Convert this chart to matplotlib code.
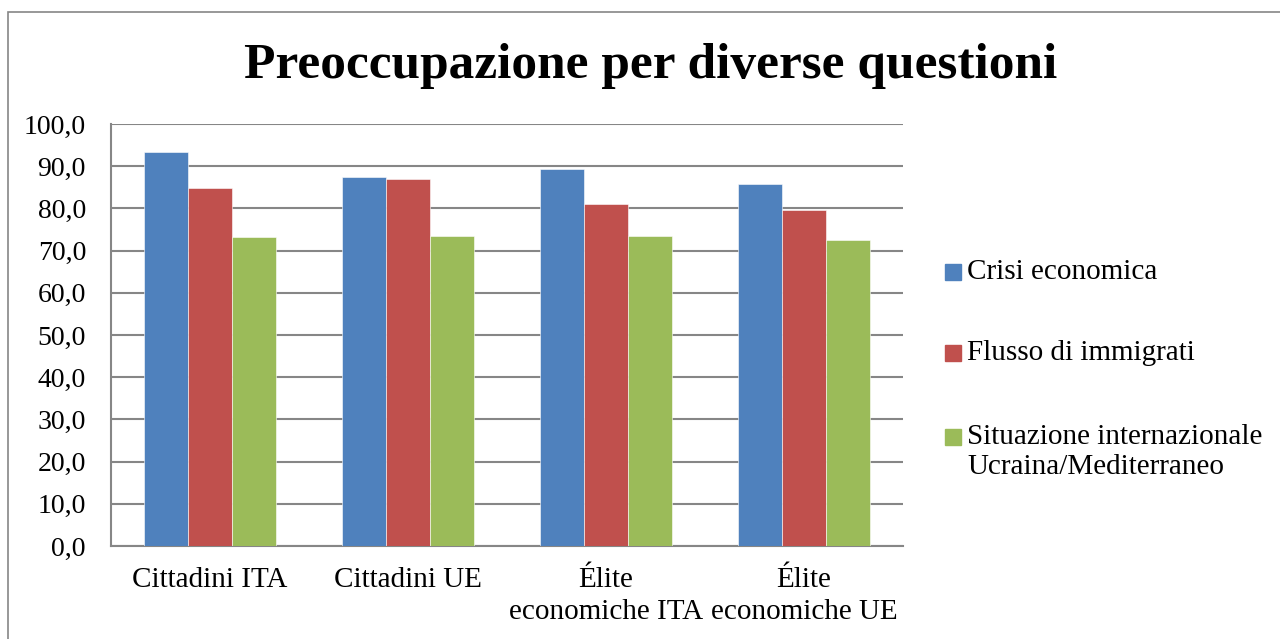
import numpy as np
import matplotlib
matplotlib.use("Agg")
import matplotlib.pyplot as plt
from matplotlib.patches import Rectangle

# dati
categorie = ["Cittadini ITA", "Cittadini UE", "Élite\neconomiche ITA", "Élite\neconomiche UE"]
crisi = [93.3, 87.4, 89.3, 85.9]
immigrati = [84.8, 87.0, 81.1, 79.6]
internazionale = [73.2, 73.5, 73.4, 72.6]
serie = ["Crisi economica", "Flusso di immigrati",
         "Situazione internazionale\nUcraina/Mediterraneo"]
colori = ["#4F81BD", "#C0504D", "#9BBB59"]
tick_y = np.arange(0, 101, 10)

plt.rcParams['font.family'] = ['Liberation Serif', 'DejaVu Serif']

W, H = 1280, 639
fig = plt.figure(figsize=(W / 100, H / 100), dpi=100)

# cornice del grafico (si vedono solo lato sinistro e superiore)
fig.patches.append(Rectangle((8 / W, -0.1), 1.2, 1.1 - 12 / H,
                             transform=fig.transFigure, fill=False,
                             edgecolor="#868686", linewidth=1.2))

ax = fig.add_axes([111 / W, 1 - 546 / H, (903 - 111) / W, (546 - 124) / H])

x = np.arange(len(categorie))
w = 0.222
for i, (vals, col) in enumerate(zip([crisi, immigrati, internazionale], colori)):
    ax.bar(x + (i - 1) * w, vals, width=w, color=col,
           edgecolor="white", linewidth=0.4, zorder=3)

ax.set_xlim(-0.5, len(categorie) - 0.5)
ax.set_ylim(0, 100)
ax.set_yticks(tick_y)
ax.set_yticklabels([f"{v:.1f}".replace(".", ",") for v in tick_y], fontsize=20)
ax.set_xticks(x)
ax.set_xticklabels(categorie, fontsize=21, linespacing=1.33)
ax.tick_params(axis="y", length=0, pad=18)
ax.tick_params(axis="x", length=0, pad=15)
ax.yaxis.grid(True, color="#868686", linewidth=1.5, zorder=0)
for s in ["top", "right"]:
    ax.spines[s].set_visible(False)
for s in ["left", "bottom"]:
    ax.spines[s].set_color("#868686")
    ax.spines[s].set_linewidth(1.5)

fig.text(651 / W, 1 - 66 / H, "Preoccupazione per diverse questioni",
         ha="center", va="center", fontsize=37, fontweight="bold")

# legenda disegnata a mano (quadratino allineato alla prima riga)
leg_y = [272, 353, 437]
for lab, col, yy in zip(serie, colori, leg_y):
    fig.patches.append(Rectangle((945 / W, 1 - (yy + 8) / H), 16 / W, 16 / H,
                                 transform=fig.transFigure, color=col))
    for k, riga in enumerate(lab.split("\n")):
        fig.text(967 / W, 1 - (yy + 30 * k) / H, riga, ha="left", va="center",
                 fontsize=21)

fig.savefig("out.png", dpi=100, facecolor="white")
